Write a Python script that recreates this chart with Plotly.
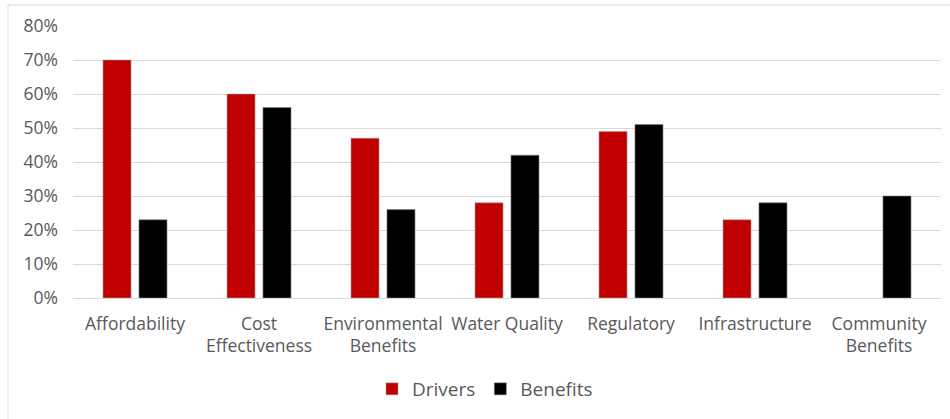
import plotly.graph_objects as go

# Survey results: share of respondents citing each factor
categories = [
    "Affordability",
    "Cost<br>Effectiveness",
    "Environmental<br>Benefits",
    "Water Quality",
    "Regulatory",
    "Infrastructure",
    "Community<br>Benefits",
]
drivers = [0.70, 0.60, 0.47, 0.28, 0.49, 0.23, None]
benefits = [0.23, 0.56, 0.26, 0.42, 0.51, 0.28, 0.30]
y_ticks = [0.0, 0.1, 0.2, 0.3, 0.4, 0.5, 0.6, 0.7, 0.8]

W, H = 950, 419
ML, MR, MT, MB = 73, 9, 26, 121
PW, PH = W - ML - MR, H - MT - MB

FONT = "Open Sans"
TEXT = "#595959"
GRID = "#d9d9d9"


def px_x(px):
    return (px - ML) / PW


def px_y(py):
    return (H - MB - py) / PH


fig = go.Figure()
fig.add_trace(go.Bar(
    name="Drivers", x=categories, y=drivers,
    marker=dict(color="#c00000", line=dict(color="#a0a0a0", width=0.6)),
))
fig.add_trace(go.Bar(
    name="Benefits", x=categories, y=benefits,
    marker=dict(color="#000000", line=dict(color="#7f7f7f", width=0.6)),
))

# light frame around the whole chart area
fig.add_shape(
    type="rect", xref="paper", yref="paper",
    x0=px_x(8), x1=px_x(953), y0=px_y(425), y1=px_y(5),
    line=dict(color=GRID, width=1), fillcolor="rgba(0,0,0,0)", layer="below",
)

fig.update_layout(
    width=W, height=H,
    margin=dict(l=ML, r=MR, t=MT, b=MB, autoexpand=False),
    paper_bgcolor="white", plot_bgcolor="white",
    font=dict(family=FONT, color=TEXT, size=17.5),
    barmode="group", bargap=0.42, bargroupgap=0.22,
    showlegend=True,
    legend=dict(
        orientation="h", x=px_x(485), xanchor="center",
        y=px_y(389), yanchor="middle",
        font=dict(family=FONT, size=19, color=TEXT),
        bgcolor="rgba(0,0,0,0)",
    ),
    xaxis=dict(
        showgrid=False, showline=False, zeroline=False,
        ticks="", tickfont=dict(size=17.5, color=TEXT),
        ticklabelstandoff=13, tickangle=0,
    ),
    yaxis=dict(
        range=[0, 0.8], tickvals=y_ticks, tickformat=".0%",
        showgrid=True, gridcolor=GRID, gridwidth=1,
        zeroline=True, zerolinecolor=GRID, zerolinewidth=1,
        showline=False, ticks="",
        tickfont=dict(size=17.5, color=TEXT),
        ticklabelstandoff=14,
    ),
)

fig.write_html("out.html")
